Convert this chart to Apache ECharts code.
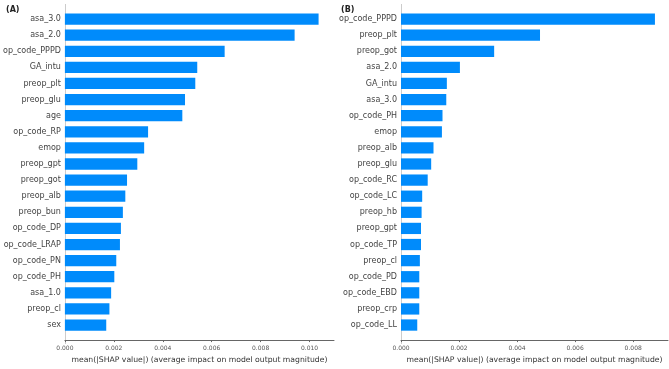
<!DOCTYPE html>
<html>
<head>
<meta charset="utf-8">
<script src="https://cdn.jsdelivr.net/npm/echarts@6/dist/echarts.min.js"></script>
<style>
  html, body { margin: 0; padding: 0; background: #fff; }
  #chart { width: 669px; height: 369px; }
</style>
</head>
<body>
<div id="chart"></div>
<script>
var catsA = ['asa_3.0', 'asa_2.0', 'op_code_PPPD', 'GA_intu', 'preop_plt', 'preop_glu', 'age',
  'op_code_RP', 'emop', 'preop_gpt', 'preop_got', 'preop_alb', 'preop_bun', 'op_code_DP',
  'op_code_LRAP', 'op_code_PN', 'op_code_PH', 'asa_1.0', 'preop_cl', 'sex'];
var valsA = [0.01037, 0.00939, 0.00653, 0.00541, 0.00533, 0.00491, 0.00480,
  0.00340, 0.00324, 0.00296, 0.00254, 0.00247, 0.00237, 0.00229,
  0.00225, 0.00210, 0.00202, 0.00189, 0.00182, 0.00169];

var catsB = ['op_code_PPPD', 'preop_plt', 'preop_got', 'asa_2.0', 'GA_intu', 'asa_3.0', 'op_code_PH',
  'emop', 'preop_alb', 'preop_glu', 'op_code_RC', 'op_code_LC', 'preop_hb', 'preop_gpt',
  'op_code_TP', 'preop_cl', 'op_code_PD', 'op_code_EBD', 'preop_crp', 'op_code_LL'];
var valsB = [0.00875, 0.00479, 0.00321, 0.00203, 0.00158, 0.00156, 0.00143,
  0.00141, 0.00112, 0.00104, 0.00092, 0.00073, 0.00071, 0.00069,
  0.00069, 0.00065, 0.00063, 0.00063, 0.00063, 0.00056];

var ticksA = { min: 0, max: 0.011, interval: 0.002 };
var ticksB = { min: 0, max: 0.0092, interval: 0.002 };
var axisTitle = 'mean(|SHAP value|) (average impact on model output magnitude)';

var font = 'DejaVu Sans';
var blue = '#008bfb';

function xAxisFor(idx, t) {
  return {
    type: 'value', gridIndex: idx, min: t.min, max: t.max, interval: t.interval,
    offset: 7,
    name: axisTitle, nameLocation: 'middle', nameGap: 15,
    nameTextStyle: { fontFamily: font, fontSize: 7.7, color: '#333' },
    axisLine: { show: true, lineStyle: { color: '#666', width: 1 } },
    axisTick: { show: true, length: 2, lineStyle: { color: '#666' } },
    axisLabel: { showMaxLabel: false, margin: 5, fontFamily: font, fontSize: 6, color: '#555',
      formatter: function(v) { return v.toFixed(3); } },
    splitLine: { show: false }
  };
}

function yAxisFor(idx, cats) {
  return {
    type: 'category', gridIndex: idx, data: cats, inverse: true,
    axisLine: { show: false }, axisTick: { show: false },
    axisLabel: { margin: 4, fontFamily: font, fontSize: 8, color: '#444' }
  };
}

function seriesFor(idx, vals) {
  return {
    type: 'bar', xAxisIndex: idx, yAxisIndex: idx, data: vals,
    barCategoryGap: '30%', itemStyle: { color: blue }, silent: true
  };
}

var chart = echarts.init(document.getElementById('chart'), null, { renderer: 'canvas' });
chart.setOption({
  animation: false,
  title: [
    { text: '(A)', left: 1, top: 1, textStyle: { fontFamily: font, fontSize: 8, fontWeight: 'bold', color: '#222' } },
    { text: '(B)', left: 336, top: 1, textStyle: { fontFamily: font, fontSize: 8, fontWeight: 'bold', color: '#222' } }
  ],
  grid: [
    { left: 64, width: 270, top: 11, height: 326 },
    { left: 401, width: 267, top: 11, height: 326 }
  ],
  xAxis: [xAxisFor(0, ticksA), xAxisFor(1, ticksB)],
  yAxis: [yAxisFor(0, catsA), yAxisFor(1, catsB)],
  series: [seriesFor(0, valsA), seriesFor(1, valsB)]
});

// zero line running from the top down to the bottom axis, as in the shap plot
var lines = [0, 1].map(function(i) {
  var x = Math.round(chart.convertToPixel({ xAxisIndex: i }, 0)) + 0.5;
  return { type: 'line', silent: true, z: 0,
    shape: { x1: x, y1: 4, x2: x, y2: 344 },
    style: { stroke: '#ccc', lineWidth: 1 } };
});
chart.setOption({ graphic: lines });
</script>
</body>
</html>
